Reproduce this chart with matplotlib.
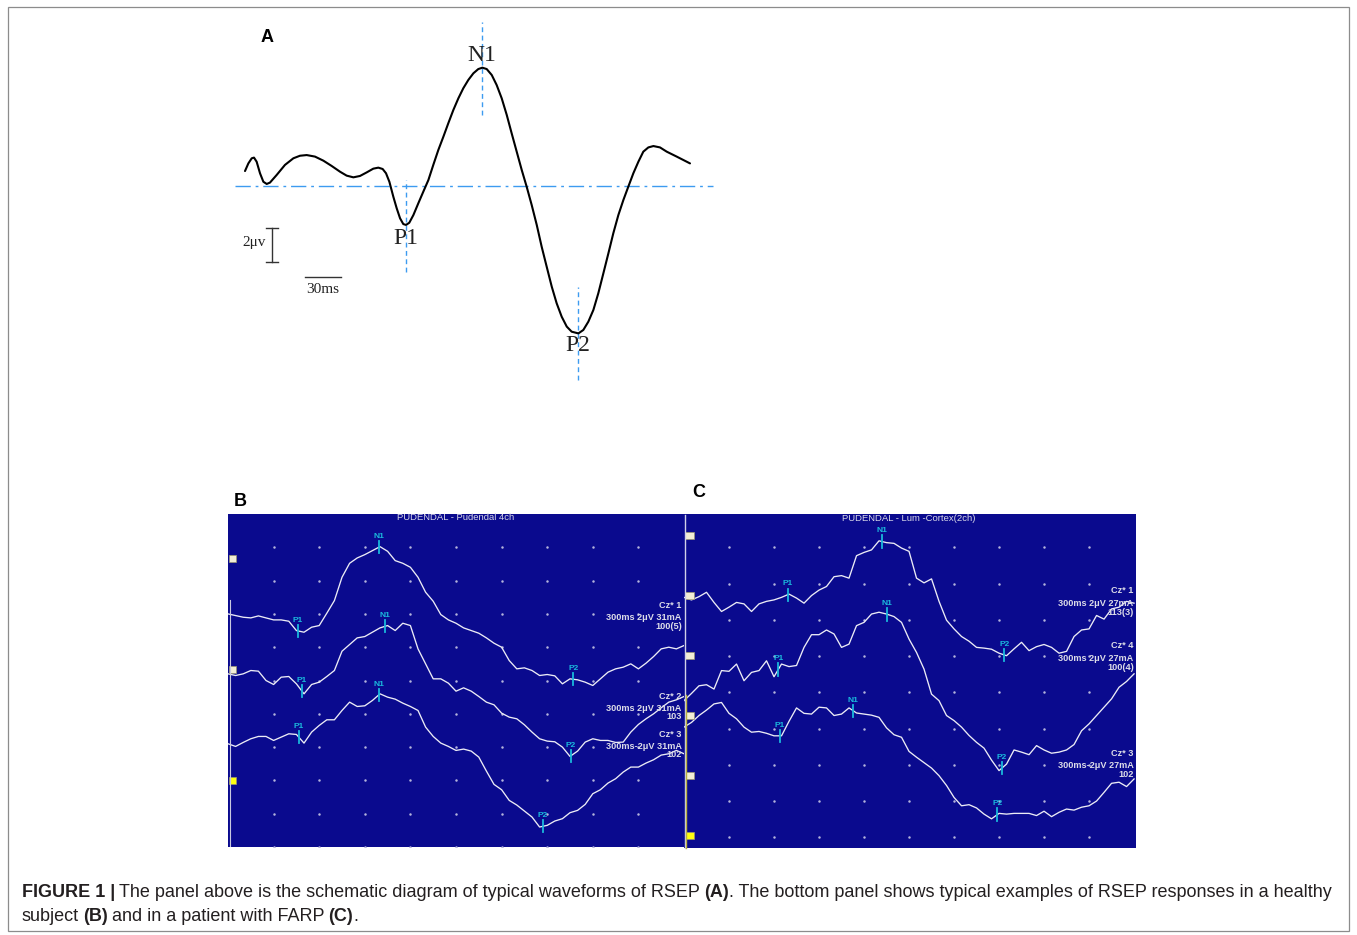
import numpy as np
import matplotlib
matplotlib.use('Agg')
import matplotlib.pyplot as plt
from matplotlib.patches import Rectangle

W, H = 1357, 935

# ---- panel A: schematic RSEP waveform (time in ms, amplitude in uV, N1 drawn upward)
a_t = [0.0, 2.8, 5.6, 7.5, 9.7, 12.5, 15.3, 18.1, 20.8, 26.4, 33.3, 40.3, 45.8, 51.4,
       58.3, 65.3, 72.2, 79.2, 84.7, 90.3, 95.8, 101.4, 106.9, 111.1, 114.7, 117.5,
       120.3, 123.6, 126.4, 129.2, 131.9, 134.2, 136.9, 140.3, 144.4, 148.6, 152.8,
       156.9, 161.1, 165.3, 169.4, 173.6, 177.8, 181.9, 186.1, 190.3, 194.4, 197.8,
       201.4, 205.6, 209.7, 213.9, 218.1, 222.2, 226.4, 230.6, 234.7, 238.9, 243.1,
       247.2, 251.4, 255.6, 259.7, 263.9, 268.1, 272.2, 277.8, 281.9, 286.1, 290.3,
       294.4, 298.6, 302.8, 306.9, 311.1, 315.3, 319.4, 323.6, 327.8, 331.9, 336.1,
       340.3, 345.8, 351.4, 359.7, 370.8]
a_amp = [0.88, 1.33, 1.63, 1.67, 1.43, 0.75, 0.25, 0.12, 0.20, 0.65, 1.24, 1.63, 1.78, 1.82,
         1.73, 1.49, 1.18, 0.84, 0.61, 0.51, 0.59, 0.80, 1.02, 1.08, 1.00, 0.75,
         0.25, -0.63, -1.31, -1.90, -2.24, -2.29, -2.16, -1.71, -1.02, -0.33, 0.35,
         1.24, 2.12, 2.90, 3.69, 4.47, 5.16, 5.75, 6.24, 6.63, 6.88, 6.96,
         6.88, 6.53, 5.94, 5.16, 4.18, 3.10, 2.02, 0.94, -0.04, -1.12, -2.29,
         -3.57, -4.75, -5.92, -6.90, -7.69, -8.27, -8.57, -8.67, -8.47, -7.98, -7.29,
         -6.31, -5.14, -3.96, -2.78, -1.71, -0.82, -0.04, 0.75, 1.43, 2.02, 2.27,
         2.35, 2.27, 2.02, 1.73, 1.33]
a_peaks = ['N1', 'P1', 'P2']
a_peak_t = [197.5, 134.2, 277.5]
a_guide_lo = [4.18, -5.06, -11.4]
a_guide_hi = [9.65, 0.35, -5.94]
a_label_amp = [7.7, -3.06, -9.41]

# ---- panels B and C: recorded traces, sampled every 5 ms over a 300 ms sweep,
# vertical position in screen divisions
sweep_t = np.arange(0, 301, 5)

b_traces = [
    [7.00, 6.95, 6.90, 6.88, 6.94, 6.88, 6.82, 6.82, 6.78, 6.50, 6.45, 6.60, 6.65, 7.02, 7.40,
     8.10, 8.52, 8.68, 8.78, 8.90, 9.02, 8.88, 8.60, 8.52, 8.40, 8.10, 7.65, 7.38, 6.98, 6.82,
     6.72, 6.58, 6.50, 6.42, 6.28, 6.12, 6.00, 5.60, 5.35, 5.38, 5.30, 5.15, 5.18, 5.14, 4.90,
     5.05, 5.02, 4.95, 4.85, 5.05, 5.25, 5.35, 5.40, 5.50, 5.35, 5.52, 5.72, 5.95, 6.00, 5.95,
     6.05],
    [5.20, 5.15, 5.20, 5.30, 5.28, 5.00, 4.88, 5.10, 5.12, 4.90, 4.60, 4.88, 4.95, 5.12, 5.30,
     5.88, 6.08, 6.28, 6.32, 6.45, 6.58, 6.65, 6.50, 6.72, 6.65, 5.95, 5.50, 5.05, 5.05, 4.92,
     4.68, 4.78, 4.68, 4.52, 4.35, 4.27, 4.02, 3.90, 3.85, 3.67, 3.45, 3.25, 3.18, 3.16, 3.00,
     2.72, 2.88, 3.15, 3.25, 3.20, 3.20, 3.14, 3.15, 3.45, 3.68, 3.85, 4.00, 4.18, 4.35, 4.42,
     4.52],
    [3.10, 3.02, 3.14, 3.25, 3.32, 3.32, 3.20, 3.30, 3.40, 3.38, 3.12, 3.45, 3.65, 3.82, 3.82,
     4.10, 4.35, 4.22, 4.24, 4.40, 4.60, 4.50, 4.44, 4.32, 4.22, 4.10, 3.60, 3.32, 3.12, 3.02,
     2.90, 2.94, 2.88, 2.70, 2.28, 1.88, 1.72, 1.40, 1.26, 1.08, 0.90, 0.60, 0.65, 0.78, 0.85,
     1.03, 1.10, 1.28, 1.60, 1.72, 1.92, 2.05, 2.25, 2.40, 2.40, 2.52, 2.62, 2.76, 2.80, 2.90,
     2.80],
]
b_p1 = [46.0, 48.5, 46.7]
b_n1 = [99.3, 103.3, 99.3]
b_p2 = [227.2, 225.7, 207.0]
b_chan = ['Cz* 1', 'Cz* 2', 'Cz* 3']
b_setting = ['300ms 2\u03bcV 31mA', '300ms 2\u03bcV 31mA', '300ms-2\u03bcV 31mA']
b_count = ['100(5)', '103', '102']

c_traces = [
    [7.62, 7.55, 7.64, 7.76, 7.48, 7.23, 7.35, 7.48, 7.44, 7.23, 7.44, 7.51, 7.55, 7.62, 7.71,
     7.60, 7.46, 7.67, 7.82, 7.92, 8.19, 8.22, 8.15, 8.77, 8.86, 8.93, 9.18, 9.13, 9.11, 8.98,
     8.89, 8.15, 8.02, 8.13, 7.51, 6.99, 6.75, 6.54, 6.41, 6.24, 6.22, 6.19, 6.08, 6.01, 6.20,
     6.38, 6.15, 6.26, 6.32, 6.24, 6.08, 6.13, 6.54, 6.72, 6.75, 7.12, 7.02, 7.30, 7.35, 7.51,
     7.46],
    [4.77, 4.97, 5.18, 5.21, 5.09, 5.60, 5.58, 5.78, 5.32, 5.55, 5.60, 5.87, 5.43, 5.78, 5.71,
     5.74, 6.24, 6.59, 6.59, 6.72, 6.61, 6.24, 6.33, 6.84, 6.93, 7.16, 7.21, 7.16, 7.09, 6.93,
     6.47, 6.10, 5.64, 4.95, 4.77, 4.36, 4.22, 4.04, 3.81, 3.62, 3.46, 3.13, 2.84, 3.02, 3.41,
     3.35, 3.28, 3.53, 3.41, 3.32, 3.35, 3.41, 3.56, 3.94, 4.13, 4.36, 4.59, 4.82, 5.14, 5.30,
     5.51],
    [4.04, 4.17, 4.36, 4.51, 4.68, 4.72, 4.42, 4.27, 4.04, 3.90, 3.92, 3.87, 3.80, 3.80, 4.20,
     4.57, 4.42, 4.40, 4.59, 4.57, 4.36, 4.40, 4.57, 4.43, 4.40, 4.37, 4.31, 4.02, 3.83, 3.76,
     3.37, 3.21, 3.06, 2.91, 2.70, 2.43, 2.10, 1.87, 1.90, 1.81, 1.64, 1.51, 1.66, 1.64, 1.66,
     1.66, 1.66, 1.60, 1.72, 1.57, 1.69, 1.78, 1.75, 1.83, 1.87, 2.00, 2.24, 2.49, 2.52, 2.40,
     2.61],
]
c_p1 = [69.1, 62.9, 64.0]
c_n1 = [131.8, 135.6, 112.9]
c_p2 = [213.6, 212.0, 208.9]
c_chan = ['Cz* 1', 'Cz* 4', 'Cz* 3']
c_setting = ['300ms 2\u03bcV 27mA', '300ms 2\u03bcV 27mA', '300ms-2\u03bcV 27mA']
c_count = ['113(3)', '100(4)', '102']

caption1 = [('FIGURE 1 |', True), ('The panel above is the schematic diagram of typical waveforms of RSEP', False),
            ('(A)', True), ('. The bottom panel shows typical examples of RSEP responses in a healthy', False)]
caption2 = [('subject', False), ('(B)', True), ('and in a patient with FARP', False), ('(C)', True), ('.', False)]

SCOPE_BG = '#0a0a8e'
TRACE = '#ececf6'
CYAN = '#1ab8dc'
GUIDE = '#3d9bf0'

fig = plt.figure(figsize=(W / 100, H / 100), dpi=100)
fig.patch.set_facecolor('white')


def px_axes(x0, y0, x1, y1):
    return fig.add_axes([x0 / W, 1 - y1 / H, (x1 - x0) / W, (y1 - y0) / H])


def fig_text(x, y, s, **kw):
    return fig.text(x / W, 1 - y / H, s, **kw)


# border
fig.add_artist(Rectangle((8 / W, 1 - 931 / H), (1349 - 8) / W, (931 - 7) / H,
                         transform=fig.transFigure, fill=False, edgecolor='#8c8c8c', lw=0.9))

# ---------------- panel A
axA = px_axes(230, 20, 720, 390)
axA.set_xlim(-12.5, 395.8)
axA.set_ylim(-12.0, 9.765)
axA.axis('off')
axA.plot([-8.3, 390], [0, 0], color=GUIDE, lw=1.0, dashes=(11, 3.5, 2, 3.5))
for t, lo, hi in zip(a_peak_t, a_guide_lo, a_guide_hi):
    axA.plot([t, t], [lo, hi], color=GUIDE, lw=1.0, dashes=(3.5, 2.5))
axA.plot(a_t, a_amp, color='black', lw=1.5, solid_joinstyle='round', solid_capstyle='round')
for name, t, y in zip(a_peaks, a_peak_t, a_label_amp):
    axA.text(t, y, name, ha='center', va='center', fontsize=17, family='Liberation Serif', color='#222222')
# scale bars
axA.plot([22.5, 22.5], [-2.47, -4.47], color='#333333', lw=1.0)
axA.plot([17.2, 27.8], [-2.47, -2.47], color='#333333', lw=1.0)
axA.plot([17.2, 27.8], [-4.47, -4.47], color='#333333', lw=1.0)
axA.text(17.0, -3.3, '2\u03bcv', ha='right', va='center', fontsize=11, family='Liberation Serif', color='#222222')
axA.plot([50, 80], [-5.35, -5.35], color='#333333', lw=1.0)
axA.text(65, -5.72, '30ms', ha='center', va='top', fontsize=11, family='Liberation Serif', color='#222222')
fig_text(267, 37, 'A', ha='center', va='center', fontsize=13, weight='bold', family='Liberation Sans')


# ---------------- panels B and C
def scope(ax, traces, p1, n1, p2, chan, setting, count, ylo, yhi, xhi, title, tick, text_y):
    ax.set_facecolor(SCOPE_BG)
    ax.set_xlim(0, xhi)
    ax.set_ylim(ylo, yhi)
    ax.set_xticks([])
    ax.set_yticks([])
    for s in ax.spines.values():
        s.set_visible(False)
    gx, gy = np.meshgrid(np.arange(30, 271, 30), np.arange(0, 10))
    ax.scatter(gx.ravel(), gy.ravel(), s=3.2, c='#b4b4dc', linewidths=0, zorder=1)
    for tr, tp1, tn1, tp2 in zip(traces, p1, n1, p2):
        ax.plot(sweep_t, tr, color=TRACE, lw=0.95, zorder=2)
        for name, tm in (('P1', tp1), ('N1', tn1), ('P2', tp2)):
            y = np.interp(tm, sweep_t, tr)
            ax.plot([tm, tm], [y - tick, y + tick], color=CYAN, lw=1.3, zorder=3)
            ax.text(tm, y + tick + 0.03, name, ha='center', va='bottom', fontsize=6,
                    weight='bold', color=CYAN, family='Liberation Sans', zorder=4)
    for (y1, y2, y3), a, b, c in zip(text_y, chan, setting, count):
        for y, s in ((y1, a), (y2, b), (y3, c)):
            ax.text(xhi - 1.5, y, s, ha='right', va='center', fontsize=6.6, weight='bold',
                    color='#dcdce8', family='Liberation Sans', zorder=5)
    ax.text(150, yhi - 0.12, title, ha='center', va='center', fontsize=6.8, color='#d8d8e8',
            family='Liberation Sans', zorder=5)


axB = px_axes(228, 514, 684, 847)
scope(axB, b_traces, b_p1, b_n1, b_p2, b_chan, b_setting, b_count, 0.0, 10.0, 300,
      'PUDENDAL - Pudendal 4ch', 0.18,
      [(7.25, 6.88, 6.62), (4.51, 4.17, 3.91), (3.37, 3.03, 2.77)])
axC = px_axes(684, 514, 1136, 848)
scope(axC, c_traces, c_p1, c_n1, c_p2, c_chan, c_setting, c_count, 0.705, 9.92, 301.3,
      'PUDENDAL - Lum -Cortex(2ch)', 0.17,
      [(7.82, 7.46, 7.21), (6.29, 5.94, 5.69), (3.32, 2.98, 2.73)])

# screen edge lines and channel markers
fig.add_artist(plt.Line2D([229.5 / W, 229.5 / W], [1 - 600 / H, 1 - 846 / H], color='#c8c8e0', lw=0.8))
fig.add_artist(plt.Line2D([684.5 / W, 684.5 / W], [1 - 515 / H, 1 - 848 / H], color='#d0d0e8', lw=1.0))
fig.add_artist(plt.Line2D([686 / W, 686 / W], [1 - 695 / H, 1 - 848 / H], color='#b8b040', lw=1.0))
for y, col in ((558, '#f2eed6'), (669, '#f2eed6'), (780, '#ffff10')):
    fig.add_artist(Rectangle((229 / W, 1 - (y + 3.5) / H), 7 / W, 7 / H, transform=fig.transFigure,
                             facecolor=col, edgecolor='#9a9670', lw=0.5))
for y, col in ((535.7, '#f2eed6'), (595.7, '#f2eed6'), (655.7, '#f2eed6'), (715.7, '#f2eed6'),
               (775.7, '#f2eed6'), (835.7, '#ffff10')):
    fig.add_artist(Rectangle((685 / W, 1 - (y + 3.5) / H), 9 / W, 7 / H, transform=fig.transFigure,
                             facecolor=col, edgecolor='#9a9670', lw=0.5))

fig_text(240, 501, 'B', ha='center', va='center', fontsize=13, weight='bold', family='Liberation Sans')
fig_text(699, 492, 'C', ha='center', va='center', fontsize=13, weight='bold', family='Liberation Sans')

# ---------------- caption
CAP_SIZE = 13
renderer = fig.canvas.get_renderer()


def width_of(s, bold):
    t = fig.text(0, 0, s, fontsize=CAP_SIZE, family='Liberation Sans', weight='bold' if bold else 'normal')
    w = t.get_window_extent(renderer).width
    t.remove()
    return w


space = 0.8 * (width_of('a a', False) - width_of('aa', False))


def rich_line(x, y, parts):
    for i, (s, bold) in enumerate(parts):
        t = fig_text(x, y, s, fontsize=CAP_SIZE, family='Liberation Sans', va='baseline',
                     weight='bold' if bold else 'normal', color='#231f20')
        x += t.get_window_extent(renderer).width
        if i + 1 < len(parts) and not parts[i + 1][0].startswith('.'):
            x += space


rich_line(22, 897, caption1)
rich_line(22, 921, caption2)

fig.savefig('out.png', dpi=100, facecolor='white')
